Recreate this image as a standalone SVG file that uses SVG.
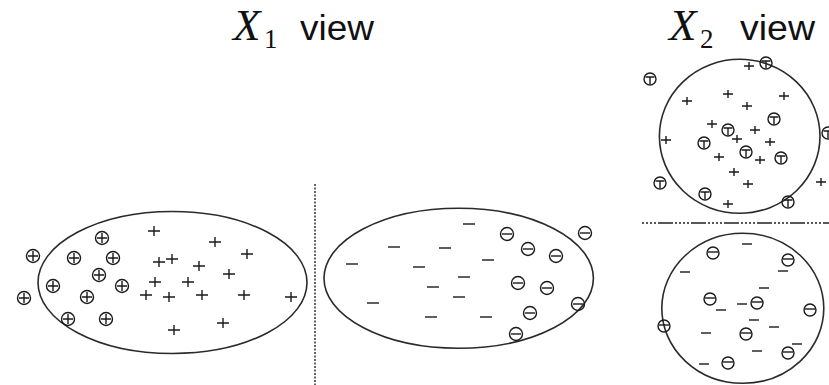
<svg xmlns="http://www.w3.org/2000/svg" xmlns:xlink="http://www.w3.org/1999/xlink" width="829" height="385" viewBox="0 0 829 385">
<style>
.ell{fill:none;stroke:#2a2a2a;stroke-width:1.6}
.mk{fill:none;stroke:#1a1a1a;stroke-width:1.4}
.ttlX{font-family:"Liberation Serif",serif;font-style:italic;font-size:45px;fill:#111}
.sub{font-family:"Liberation Serif",serif;font-size:27px;fill:#111}
.ttl{font-family:"Liberation Sans",sans-serif;font-size:35px;fill:#111}
.sep{fill:none;stroke:#222;stroke-width:1.4}
</style>
<defs>
<path id="pL" class="mk" d="M-6,0H6M0,-5V5"/>
<path id="pS" class="mk" d="M-5,0H5M0,-4V4"/>
<path id="mL" class="mk" d="M-6,0H6"/>
<path id="mS" class="mk" d="M-5,0H5"/>
<g id="cp" class="mk"><circle r="6.5"/><path d="M-5,0H5M0,-5V5"/></g>
<g id="cm" class="mk"><circle r="6.5"/><path d="M-5,0H5"/></g>
<g id="ct" class="mk"><circle r="6"/><path d="M-4.5,-2H4.5M0,-2V5"/></g>
<g id="cb" class="mk"><circle r="6"/><path d="M-5,-1H5"/></g>
</defs>
<rect width="829" height="385" fill="#fff"/>

<g id="title-x1">
<text class="ttlX" x="233" y="40">X</text>
<text class="sub" x="264" y="48">1</text>
<text class="ttl" x="300" y="40" textLength="74" lengthAdjust="spacingAndGlyphs">view</text>
</g>
<g id="title-x2">
<text class="ttlX" x="669" y="40">X</text>
<text class="sub" x="700" y="48">2</text>
<text class="ttl" x="740" y="40" textLength="75" lengthAdjust="spacingAndGlyphs">view</text>
</g>

<g id="separators">
<line class="sep" x1="315" y1="184" x2="315" y2="385" stroke-dasharray="2 1.5"/>
<line class="sep" x1="640" y1="223" x2="829" y2="223" stroke-dasharray="15 2 2 2 2 2 2 2 2 2" stroke-dashoffset="15"/>
</g>

<g id="x1-positive">
<ellipse class="ell" cx="172.5" cy="282.5" rx="134.5" ry="71"/>
<use href="#cp" x="102" y="238"/>
<use href="#cp" x="33" y="256"/>
<use href="#cp" x="74" y="258"/>
<use href="#cp" x="113" y="258"/>
<use href="#cp" x="99" y="275"/>
<use href="#cp" x="53" y="286"/>
<use href="#cp" x="122" y="286"/>
<use href="#cp" x="24" y="298"/>
<use href="#cp" x="87" y="297"/>
<use href="#cp" x="68" y="319"/>
<use href="#cp" x="106" y="319"/>
<use href="#pL" x="154" y="231"/>
<use href="#pL" x="215" y="242"/>
<use href="#pL" x="247" y="254"/>
<use href="#pL" x="159" y="262"/>
<use href="#pL" x="172" y="259"/>
<use href="#pL" x="199" y="266"/>
<use href="#pL" x="229" y="274"/>
<use href="#pL" x="155" y="282"/>
<use href="#pL" x="188" y="282"/>
<use href="#pL" x="146" y="295"/>
<use href="#pL" x="169" y="297"/>
<use href="#pL" x="202" y="295"/>
<use href="#pL" x="244" y="295"/>
<use href="#pL" x="291" y="297"/>
<use href="#pL" x="223" y="323"/>
<use href="#pL" x="174" y="330"/>
</g>

<g id="x1-negative">
<ellipse class="ell" cx="458.7" cy="278.3" rx="134.7" ry="70"/>
<use href="#mL" x="469" y="224"/>
<use href="#mL" x="394" y="247"/>
<use href="#mL" x="445" y="248"/>
<use href="#mL" x="488" y="260"/>
<use href="#mL" x="352" y="264"/>
<use href="#mL" x="419" y="267"/>
<use href="#mL" x="464" y="277"/>
<use href="#mL" x="433" y="287"/>
<use href="#mL" x="459" y="297"/>
<use href="#mL" x="373" y="303"/>
<use href="#mL" x="431" y="317"/>
<use href="#mL" x="486" y="317"/>
<use href="#cm" x="507" y="234"/>
<use href="#cm" x="585" y="233"/>
<use href="#cm" x="528" y="249"/>
<use href="#cm" x="556" y="256"/>
<use href="#cm" x="518" y="283"/>
<use href="#cm" x="547" y="288"/>
<use href="#cm" x="578" y="304"/>
<use href="#cm" x="530" y="313"/>
<use href="#cm" x="516" y="334"/>
</g>

<g id="x2-positive">
<ellipse class="ell" cx="739.7" cy="136.3" rx="80.3" ry="77"/>
<use href="#ct" x="650" y="79"/>
<use href="#ct" x="766" y="63"/>
<use href="#ct" x="774" y="119"/>
<use href="#ct" x="728" y="130"/>
<use href="#ct" x="704" y="143"/>
<use href="#ct" x="746" y="152"/>
<use href="#ct" x="781" y="158"/>
<use href="#ct" x="828" y="133"/>
<use href="#ct" x="660" y="183"/>
<use href="#ct" x="705" y="194"/>
<use href="#ct" x="788" y="202"/>
<use href="#pS" x="749" y="66"/>
<use href="#pS" x="687" y="101"/>
<use href="#pS" x="728" y="94"/>
<use href="#pS" x="784" y="96"/>
<use href="#pS" x="747" y="106"/>
<use href="#pS" x="712" y="124"/>
<use href="#pS" x="755" y="130"/>
<use href="#pS" x="666" y="140"/>
<use href="#pS" x="737" y="139"/>
<use href="#pS" x="770" y="142"/>
<use href="#pS" x="719" y="157"/>
<use href="#pS" x="760" y="160"/>
<use href="#pS" x="734" y="172"/>
<use href="#pS" x="821" y="182"/>
<use href="#pS" x="748" y="184"/>
<use href="#pS" x="728" y="204"/>
</g>

<g id="x2-negative">
<ellipse class="ell" cx="742.8" cy="308.3" rx="81" ry="75"/>
<use href="#cb" x="713" y="253"/>
<use href="#cb" x="788" y="260"/>
<use href="#cb" x="710" y="299"/>
<use href="#cb" x="757" y="303"/>
<use href="#cb" x="810" y="310"/>
<use href="#cb" x="664" y="326"/>
<use href="#cb" x="746" y="334"/>
<use href="#cb" x="788" y="353"/>
<use href="#cb" x="728" y="363"/>
<use href="#mS" x="747" y="244"/>
<use href="#mS" x="685" y="272"/>
<use href="#mS" x="783" y="271"/>
<use href="#mS" x="764" y="288"/>
<use href="#mS" x="721" y="310"/>
<use href="#mS" x="742" y="304"/>
<use href="#mS" x="754" y="320"/>
<use href="#mS" x="774" y="327"/>
<use href="#mS" x="706" y="333"/>
<use href="#mS" x="797" y="344"/>
<use href="#mS" x="757" y="351"/>
<use href="#mS" x="704" y="364"/>
</g>
</svg>
